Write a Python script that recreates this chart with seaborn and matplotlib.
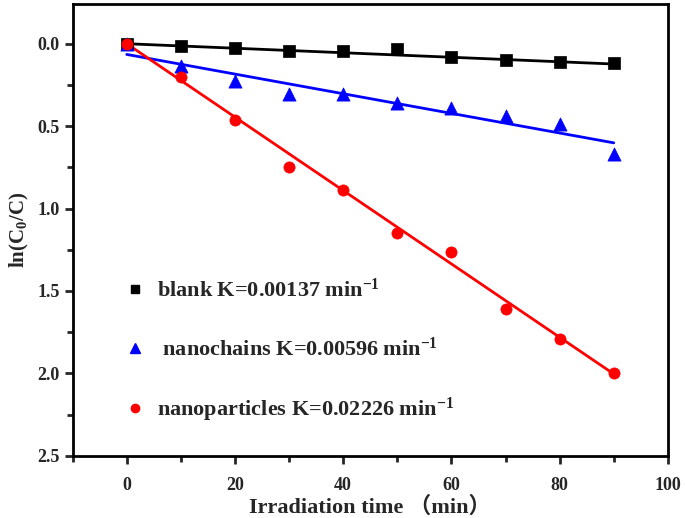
import matplotlib
matplotlib.use('Agg')
import matplotlib.pyplot as plt
import seaborn as sns
import numpy as np
import pandas as pd
from matplotlib.ticker import MultipleLocator, FormatStrFormatter
from matplotlib.lines import Line2D

# data
time_min = [0, 10, 20, 30, 40, 50, 60, 70, 80, 90]
blank = [0.0, 0.014, 0.027, 0.047, 0.047, 0.035, 0.082, 0.10, 0.112, 0.119]
nanochains = [0.0, 0.137, 0.225, 0.307, 0.307, 0.358, 0.389, 0.436, 0.49, 0.669]
nanoparticles = [0.0, 0.20, 0.46, 0.75, 0.885, 1.148, 1.264, 1.61, 1.79, 1.997]

# linear fits: rate constant K (from legend) and intercept
k_values = [0.00137, 0.00596, 0.02226]
intercepts = [0.0, 0.065, 0.0]
series_names = ['blank', 'nanochains', 'nanoparticles']
legend_labels = [r'blank K=0.00137 min$^{-1}$',
                 r' nanochains K=0.00596 min$^{-1}$',
                 r'nanoparticles K=0.02226 min$^{-1}$']
colors = ['black', 'blue', 'red']
markers = ['s', '^', 'o']

sns.set_theme(style='ticks')
plt.rcParams['font.family'] = ['Liberation Serif', 'Noto Sans CJK SC']
plt.rcParams['font.weight'] = 'bold'
plt.rcParams['mathtext.fontset'] = 'custom'
plt.rcParams['mathtext.rm'] = 'Liberation Serif:bold'
plt.rcParams['mathtext.it'] = 'Liberation Serif:bold'
plt.rcParams['mathtext.bf'] = 'Liberation Serif:bold'

df = pd.DataFrame({'time': time_min * 3,
                   'value': blank + nanochains + nanoparticles,
                   'sample': np.repeat(series_names, len(time_min))})

fig = plt.figure(figsize=(6.85, 5.18), dpi=100)
ax = fig.add_axes([0.106, 0.12, 0.869, 0.872])

# fitted lines
t_fit = np.array([0, 90])
for name, k, b, c in zip(series_names, k_values, intercepts, colors):
    sns.lineplot(x=t_fit, y=b + k * t_fit, color=c, lw=2, ax=ax, zorder=2)

# measured points
sizes = {'s': 70, '^': 90, 'o': 65}
for name, c, m in zip(series_names, colors, markers):
    sub = df[df['sample'] == name]
    sns.scatterplot(data=sub, x='time', y='value', color=c, marker=m,
                    s=sizes[m], edgecolor=c, linewidth=0.5, ax=ax, zorder=3)

ax.set_xlim(-10, 100)
ax.set_ylim(2.5, -0.24)
ax.xaxis.set_major_locator(MultipleLocator(20))
ax.xaxis.set_minor_locator(MultipleLocator(10))
ax.yaxis.set_major_locator(MultipleLocator(0.5))
ax.yaxis.set_minor_locator(MultipleLocator(0.25))
ax.yaxis.set_major_formatter(FormatStrFormatter('%.1f'))
ax.tick_params(which='major', direction='out', length=6, width=2,
               labelsize=13, top=False, right=False)
ax.tick_params(axis='x', which='major', pad=9)
ax.tick_params(which='minor', direction='out', length=4, width=2,
               top=False, right=False)
for lab in ax.get_xticklabels() + ax.get_yticklabels():
    lab.set_fontweight('bold')
for sp in ax.spines.values():
    sp.set_linewidth(2)
    sp.set_color('black')

ax.set_xlabel('Irradiation time （min）', fontsize=16, fontweight='bold', labelpad=2)
ax.set_ylabel(r'ln(C$_0$/C)', fontsize=15, fontweight='bold', labelpad=4)

handles = [Line2D([], [], ls='none', marker=m, color=c, markersize=6 if m != '^' else 7)
           for m, c in zip(markers, colors)]
ax.legend(handles, legend_labels, loc='upper left', bbox_to_anchor=(0.052, 0.437),
          frameon=False, labelspacing=1.6, handletextpad=0.5,
          handlelength=1.0, prop={'weight': 'bold', 'size': 16})

fig.savefig('out.png', dpi=100)
